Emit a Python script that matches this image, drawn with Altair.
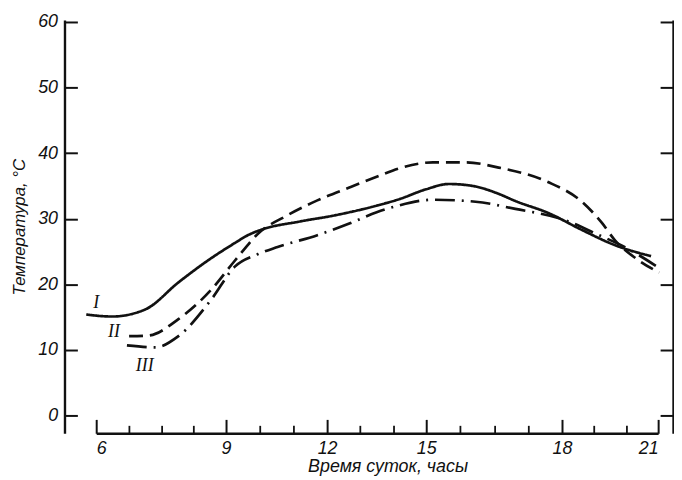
import altair as alt
import pandas as pd

# ---- data ----
hours_I = [5.77, 6.37, 7.14, 7.90, 8.66, 9.26, 9.65, 10.03, 11.21, 12.21, 13.5, 14.19, 15.0, 15.5, 16.03, 16.6, 16.97, 17.69, 18.62, 19.64, 20.78]
temp_I = [15.4, 15.1, 16.2, 20.3, 24.0, 26.3, 27.5, 28.3, 29.6, 30.5, 32.0, 33.0, 34.5, 35.3, 35.0, 33.8, 32.7, 30.9, 28.3, 26.0, 24.3]

hours_II = [6.76, 7.21, 7.90, 8.66, 9.26, 10.03, 10.74, 11.71, 12.69, 13.5, 14.19, 15.15, 15.88, 16.6, 17.69, 18.62, 19.24, 19.64, 20.35, 21.03]
temp_II = [12.1, 12.2, 14.7, 19.2, 23.6, 28.1, 30.3, 32.8, 34.8, 36.4, 37.7, 38.6, 38.6, 37.8, 35.6, 32.6, 29.4, 26.8, 23.8, 21.8]

hours_III = [6.71, 7.37, 7.90, 8.66, 9.26, 9.94, 10.53, 11.71, 12.69, 13.5, 14.01, 15.15, 16.09, 16.97, 18.09, 19.11, 19.95, 21.03]
temp_III = [10.7, 10.4, 12.1, 17.7, 22.7, 24.6, 25.7, 27.5, 29.3, 31.0, 31.8, 32.9, 32.6, 31.5, 29.8, 27.6, 25.7, 22.5]

series_names = ["I", "II", "III"]
label_hour = [6.0, 6.41, 7.12]
label_temp = [17.2, 12.7, 7.6]

x_major = [6, 9, 12, 15, 18, 21]
x_minor = [6.75, 7.5, 8.25, 10, 11, 13, 14, 15.75, 16.5, 17.25, 19, 20]
y_ticks = [0, 10, 20, 30, 40, 50, 60]

rows = []
for name, hs, ts in zip(series_names, [hours_I, hours_II, hours_III], [temp_I, temp_II, temp_III]):
    for h, t in zip(hs, ts):
        rows.append({"series": name, "hour": h, "temp": t})
df = pd.DataFrame(rows)
labels_df = pd.DataFrame({"label": series_names, "hour": label_hour, "temp": label_temp})

FONT = "Liberation Sans"
INK = "#111111"

# hand-drawn, unevenly spaced hour axis of the original figure
xscale = alt.Scale(domain=x_major, range=[32, 163, 265, 365, 502, 599], nice=False, zero=False)
yscale = alt.Scale(domain=[-2.7, 60.3], nice=False, zero=False)

lines = alt.Chart(df).mark_line(color=INK, strokeWidth=2.7, interpolate="monotone").encode(
    x=alt.X("hour:Q", scale=xscale, axis=alt.Axis(
        orient="bottom", values=x_major, ticks=False, grid=False, domain=True,
        domainColor=INK, domainWidth=2.4, labelFont=FONT, labelFontSize=18,
        labelFontStyle="italic", labelColor=INK, labelPadding=6, labelBaseline="top",
        title="Время суток, часы", titleFont=FONT, titleFontSize=18,
        titleFontStyle="italic", titleFontWeight="normal", titleColor=INK,
        titlePadding=1, titleX=326, titleAlign="center")),
    y=alt.Y("temp:Q", scale=yscale, axis=alt.Axis(
        orient="left", values=y_ticks, ticks=False, grid=False, domain=True,
        domainColor=INK, domainWidth=2.4, labelFont=FONT, labelFontSize=18,
        labelFontStyle="italic", labelColor=INK, labelPadding=7,
        title="Температура, °C", titleFont=FONT, titleFontSize=17,
        titleFontStyle="italic", titleFontWeight="normal", titleColor=INK, titlePadding=9)),
    strokeDash=alt.StrokeDash("series:N", scale=alt.Scale(
        domain=series_names, range=[[1, 0], [14, 7], [20, 7, 2, 7]]), legend=None),
    detail="series:N",
)

# inward major ticks (bottom, left)
ticks_major = alt.Chart(df).mark_point(opacity=0).encode(
    x=alt.X("hour:Q", scale=xscale, axis=alt.Axis(
        orient="bottom", values=x_major, offset=-14, tickSize=14, tickWidth=2,
        tickColor=INK, labels=False, domain=False, grid=False, title=None)),
    y=alt.Y("temp:Q", scale=yscale, axis=alt.Axis(
        orient="left", values=y_ticks, offset=-13, tickSize=13, tickWidth=2,
        tickColor=INK, labels=False, domain=False, grid=False, title=None)),
)

# inward minor ticks (bottom) and right frame line
ticks_minor = alt.Chart(df).mark_point(opacity=0).encode(
    x=alt.X("hour:Q", scale=xscale, axis=alt.Axis(
        orient="bottom", values=x_minor, offset=-8, tickSize=8, tickWidth=1.8,
        tickColor=INK, labels=False, domain=False, grid=False, title=None)),
    y=alt.Y("temp:Q", scale=yscale, axis=alt.Axis(
        orient="right", values=y_ticks, ticks=False, labels=False, domain=True,
        domainColor=INK, domainWidth=2.4, grid=False, title=None)),
)

# inward ticks on the right axis
ticks_right = alt.Chart(df).mark_point(opacity=0).encode(
    x=alt.X("hour:Q", scale=xscale, axis=None),
    y=alt.Y("temp:Q", scale=yscale, axis=alt.Axis(
        orient="right", values=y_ticks, offset=-13, tickSize=13, tickWidth=2,
        tickColor=INK, labels=False, domain=False, grid=False, title=None)),
)

text = alt.Chart(labels_df).mark_text(
    font="Liberation Serif", fontSize=18, fontStyle="italic", color=INK
).encode(
    x=alt.X("hour:Q", scale=xscale, axis=None),
    y=alt.Y("temp:Q", scale=yscale, axis=None),
    text="label:N",
)

chart = alt.layer(lines, ticks_major, ticks_minor, ticks_right, text).resolve_axis(
    x="independent", y="independent"
).properties(
    width=614, height=417,
    autosize=alt.AutoSizeParams(type="none"),
    padding={"left": 57, "top": 10, "right": 1, "bottom": 41},
    background="white",
).configure_view(stroke=None)

chart.save("out.html", embed_options={"renderer": "svg", "actions": False})
